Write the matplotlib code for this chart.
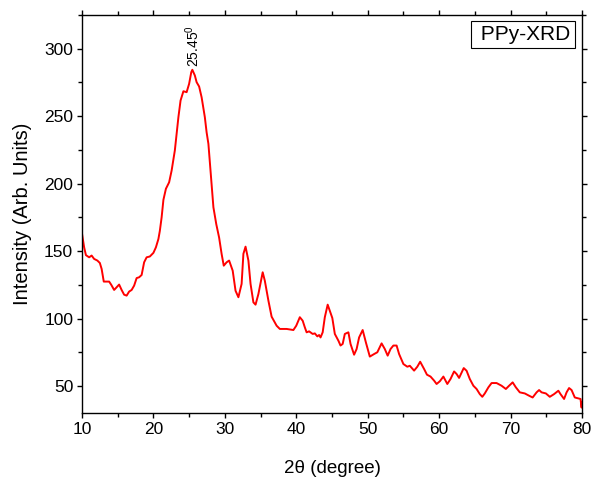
import numpy as np
import matplotlib.pyplot as plt
from matplotlib.ticker import MultipleLocator

plt.rcParams['font.family'] = ['Liberation Sans', 'DejaVu Sans']
plt.rcParams['mathtext.fontset'] = 'custom'
plt.rcParams['mathtext.rm'] = 'Liberation Sans'

two_theta = [10.0, 10.3, 10.55, 11.0, 11.35, 11.7, 12.15, 12.5, 12.75, 13.05, 13.8, 14.1,
             14.5, 14.85, 15.2, 15.55, 15.9, 16.25, 16.6, 16.95, 17.3, 17.65, 18.0, 18.35,
             18.7, 19.05, 19.5, 20.0, 20.35, 20.7, 20.9, 21.15, 21.4, 21.75, 22.2, 22.55,
             23.0, 23.5, 23.8, 24.2, 24.65, 25.0, 25.3, 25.45, 25.8, 26.05, 26.4, 26.75,
             27.2, 27.45, 27.7, 28.15, 28.4, 28.8, 29.2, 29.55, 29.85, 30.25, 30.6, 31.1,
             31.5, 31.9, 32.35, 32.6, 32.9, 33.3, 33.6, 34.0, 34.3, 34.7, 35.3, 35.6,
             36.1, 36.55, 37.25, 37.7, 38.65, 39.6, 40.0, 40.5, 40.9, 41.2, 41.45, 41.8,
             42.3, 42.6, 42.95, 43.2, 43.4, 43.7, 44.0, 44.4, 44.7, 45.05, 45.4, 45.9,
             46.2, 46.5, 46.8, 47.3, 47.6, 48.1, 48.45, 48.8, 49.3, 49.75, 50.3, 50.9,
             51.35, 51.95, 52.4, 52.8, 53.2, 53.6, 54.05, 54.4, 55.0, 55.55, 55.9, 56.5,
             56.95, 57.35, 57.9, 58.3, 58.8, 59.3, 59.65, 60.1, 60.6, 61.15, 61.6, 62.1,
             62.45, 62.8, 63.15, 63.45, 63.85, 64.3, 64.8, 65.25, 65.7, 66.05, 66.4, 66.9,
             67.35, 68.05, 68.75, 69.35, 69.8, 70.3, 70.75, 71.3, 72.0, 72.6, 73.1, 73.65,
             74.0, 74.35, 74.95, 75.5, 76.1, 76.7, 77.0, 77.5, 77.85, 78.2, 78.55, 79.0,
             79.5, 79.8, 79.95, 80.0]
intensity = [163, 152.8, 147, 145.4, 146.7, 144.2, 143, 141.2, 136.8, 127.4, 127.4, 125,
             121.2, 123.2, 125.2, 121.2, 117.7, 117, 120, 121.2, 124.4, 130, 130.6, 132.3,
             141.7, 145.4, 146, 148.7, 152.8, 159, 165, 175, 188, 196.2, 201, 209.7,
             224.6, 249.3, 261.6, 268.5, 267.8, 274, 282.6, 284.4, 280.2, 275.2, 272, 264,
             249.3, 238, 229.5, 199.8, 182.5, 170, 160, 147.9, 139.2, 141.7, 143, 135.5,
             120.6, 115.8, 125.7, 148, 153.3, 143, 125.7, 112, 110.3, 118.2, 134.3, 128,
             113.3, 101.4, 94.7, 92.3, 92.3, 91.5, 94.7, 101, 98.4, 93.5, 89.8, 90.5,
             88.6, 89, 86.8, 87.8, 86, 89.8, 101, 110.3, 105.8, 100.4, 88.6, 83.6,
             80, 81.2, 88.6, 89.8, 81.2, 73.2, 77.4, 86, 91.5, 82.3, 71.8, 73.7,
             75, 81.6, 77.4, 72.5, 77.4, 80, 80, 73.7, 66.3, 64.3, 65, 61.4,
             64.3, 68, 62.6, 58.4, 57, 54, 51.5, 53.5, 57, 51.5, 55.2, 60.8,
             58.9, 56, 60, 63.3, 61.3, 55.2, 50.2, 47.8, 44, 42, 44.5, 49,
             52.2, 52.2, 50.2, 47.8, 50.2, 52.7, 49, 45.3, 44.5, 42.8, 41.5, 45.3,
             47, 45.3, 44.5, 42, 44, 46.5, 44, 40.4, 45.3, 48.5, 47, 41.5,
             40.8, 40.4, 34, 38]

fig = plt.figure(figsize=(5.92, 4.78), dpi=100)
ax = fig.add_axes([0.1385, 0.136, 0.8445, 0.8326])

ax.plot(two_theta, intensity, color='red', lw=1.4)

ax.set_xlim(10, 80)
ax.set_ylim(30, 325)
ax.xaxis.set_major_locator(MultipleLocator(10))
ax.xaxis.set_minor_locator(MultipleLocator(5))
ax.set_yticks([50, 100, 150, 200, 250, 300])
ax.yaxis.set_minor_locator(MultipleLocator(25))
ax.tick_params(which='both', direction='out', top=True, right=True, labelsize=12.5)
ax.tick_params(which='major', length=3.8, width=1, pad=2.5)
ax.tick_params(which='minor', length=3, width=1)
for s in ax.spines.values():
    s.set_linewidth(1)

ax.set_xlabel('2θ (degree)', fontsize=13.5, labelpad=17)
ax.set_ylabel('Intensity (Arb. Units)', fontsize=14.5, labelpad=9)

ax.text(25.5, 286.5, r'25.45$^0$', rotation=90, ha='center', va='bottom', fontsize=10)
ax.text(0.977, 0.975, ' PPy-XRD', transform=ax.transAxes, ha='right', va='top', fontsize=15,
        bbox=dict(boxstyle='square,pad=0.2', fc='white', ec='black', lw=0.8))

fig.savefig('out.png', dpi=100)
